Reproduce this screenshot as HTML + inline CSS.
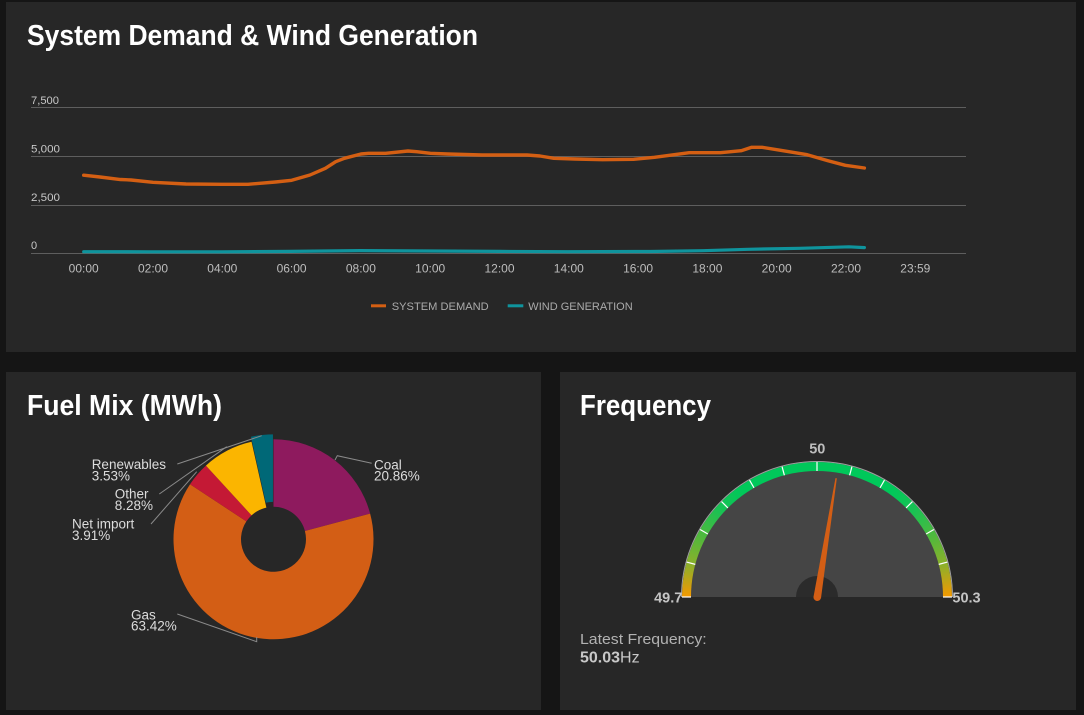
<!DOCTYPE html>
<html>
<head>
<meta charset="utf-8">
<style>
  html,body{margin:0;padding:0;}
  body{width:1084px;height:715px;background:#151515;position:relative;overflow:hidden;font-family:"Liberation Sans",sans-serif;}
  .panel{position:absolute;background:#272727;}
  #p1{left:6px;top:2px;width:1070px;height:350px;}
  #p2{left:6px;top:372px;width:535px;height:338px;}
  #p3{left:560px;top:372px;width:516px;height:338px;}
  #gwrap{position:absolute;left:682px;top:462px;width:270px;height:135px;overflow:hidden;}
  #gcone{width:270px;height:270px;border-radius:50%;
    background:conic-gradient(from 270deg,#f59a00 0deg,#d0a010 5deg,#8eb02a 14deg,#52b83c 27deg,#18c254 42deg,#00c85a 55deg,#00c85a 125deg,#18c254 138deg,#52b83c 153deg,#8eb02a 166deg,#d0a010 175deg,#f59a00 180deg,#f59a00 360deg);}
  svg{position:absolute;left:0;top:0;}
</style>
</head>
<body>
<div class="panel" id="p1"></div>
<div class="panel" id="p2"></div>
<div class="panel" id="p3"></div>
<div id="gwrap"><div id="gcone"></div></div>

<svg width="1084" height="715" viewBox="0 0 1084 715" xmlns="http://www.w3.org/2000/svg" font-family="Liberation Sans, sans-serif">
  <!-- Titles -->
  <text x="27" y="45" font-size="28.5" font-weight="bold" fill="#ffffff" textLength="451" lengthAdjust="spacingAndGlyphs">System Demand &amp; Wind Generation</text>
  <text x="27" y="415" font-size="29" font-weight="bold" fill="#ffffff" textLength="195" lengthAdjust="spacingAndGlyphs">Fuel Mix (MWh)</text>
  <text x="580" y="415" font-size="28.5" font-weight="bold" fill="#ffffff" textLength="131" lengthAdjust="spacingAndGlyphs">Frequency</text>

  <!-- Grid -->
  <g stroke="#5e5e5e" stroke-width="1">
    <line x1="31" y1="107.5" x2="966" y2="107.5"/>
    <line x1="31" y1="156.5" x2="966" y2="156.5"/>
    <line x1="31" y1="205.5" x2="966" y2="205.5"/>
    <line x1="31" y1="253.5" x2="966" y2="253.5"/>
  </g>
  <g font-size="11" fill="#c8c8c8">
    <text x="31" y="104" textLength="28" lengthAdjust="spacingAndGlyphs">7,500</text>
    <text x="31" y="152.5" textLength="29" lengthAdjust="spacingAndGlyphs">5,000</text>
    <text x="31" y="201" textLength="29" lengthAdjust="spacingAndGlyphs">2,500</text>
    <text x="31" y="249">0</text>
  </g>
  <g font-size="12" fill="#bdbdbd" text-anchor="middle">
    <text x="83.7" y="272.5">00:00</text>
    <text x="153" y="272.5">02:00</text>
    <text x="222.3" y="272.5">04:00</text>
    <text x="291.6" y="272.5">06:00</text>
    <text x="360.9" y="272.5">08:00</text>
    <text x="430.2" y="272.5">10:00</text>
    <text x="499.5" y="272.5">12:00</text>
    <text x="568.8" y="272.5">14:00</text>
    <text x="638.1" y="272.5">16:00</text>
    <text x="707.4" y="272.5">18:00</text>
    <text x="776.7" y="272.5">20:00</text>
    <text x="846" y="272.5">22:00</text>
    <text x="915.3" y="272.5">23:59</text>
  </g>

  <!-- Series -->
  <polyline fill="none" stroke="#0f949d" stroke-width="3.2" stroke-linejoin="round" stroke-linecap="round"
    points="83.7,251.7 150,251.8 222,251.8 290,251.4 360,250.6 430,251 500,251.4 568,251.7 650,251.5 703,250.7 748,249.3 800,248.3 849,246.8 864.4,247.6"/>
  <polyline fill="none" stroke="#d45f13" stroke-width="3.4" stroke-linejoin="round" stroke-linecap="round"
    points="83.7,175.2 100,177 120.5,179.5 131,180 153,182.3 186,184 222,184.3 248,184.3 275.5,182 291.7,180.3 310,175 325.4,168.3 335.7,161.7 344.4,158.3 361,154 368.5,153.3 385.7,153.3 408,151 416.7,151.7 430.4,153.3 447.7,154 482,155 499.3,155 527,155 540,156 553.9,158.3 574.7,159 602.5,159.7 633.7,159.3 654.5,157.3 689.2,152.7 720.4,152.7 741.2,150.7 751.7,147.3 762,147.3 782.9,150.7 807.2,154.7 828,160.7 845.3,165.3 864.4,168"/>

  <!-- Legend -->
  <rect x="371" y="304.3" width="15" height="3" fill="#d45f13"/>
  <text x="391.7" y="310" font-size="11.3" fill="#ababab" textLength="97" lengthAdjust="spacingAndGlyphs">SYSTEM DEMAND</text>
  <rect x="507.7" y="304.3" width="15.6" height="3" fill="#0f949d"/>
  <text x="528.3" y="310" font-size="11.3" fill="#ababab" textLength="104.4" lengthAdjust="spacingAndGlyphs">WIND GENERATION</text>

  <!-- Pie -->
  <path d="M273.5,439.3 A100,100 0 0 1 370.14,513.59 L304.91,530.94 A32.5,32.5 0 0 0 273.5,506.8 Z" fill="#8e1a5e"/>
  <path d="M370.14,513.59 A100,100 0 1 1 190.03,484.23 L246.37,521.40 A32.5,32.5 0 1 0 304.91,530.94 Z" fill="#d35e15"/>
  <path d="M190.03,484.23 A100,100 0 0 1 205.93,465.58 L251.54,515.34 A32.5,32.5 0 0 0 246.37,521.40 Z" fill="#c41935"/>
  <path d="M205.93,465.58 A100,100 0 0 1 251.52,441.75 L266.36,507.60 A32.5,32.5 0 0 0 251.54,515.34 Z" fill="#fbb500"/>
  <path transform="translate(-0.56,-4.97)" d="M251.52,441.75 A100,100 0 0 1 273.5,439.3 L273.5,506.8 A32.5,32.5 0 0 0 266.36,507.60 Z" fill="#006877"/>

  <!-- Pie leader lines -->
  <g fill="none" stroke="#8a8a8a" stroke-width="1">
    <polyline points="335,460 337.3,455.7 371.7,463.3"/>
    <polyline points="177.3,614 256.7,641.7 256.7,637"/>
    <polyline points="151,524 196.7,471.7"/>
    <polyline points="159.3,494 226.7,446.7"/>
    <polyline points="177.3,464 261.7,435.7"/>
  </g>
  <g font-size="13.5" fill="#dcdcdc">
    <text x="374" y="469.3">Coal</text>
    <text x="374" y="480.7">20.86%</text>
    <text x="131" y="619.3">Gas</text>
    <text x="131" y="630.7">63.42%</text>
    <text x="72" y="528.5">Net import</text>
    <text x="72" y="540">3.91%</text>
    <text x="114.7" y="498.5">Other</text>
    <text x="114.7" y="510">8.28%</text>
    <text x="91.7" y="469">Renewables</text>
    <text x="91.7" y="480.5">3.53%</text>
  </g>

  <!-- Gauge (center 817, 597) -->
  <rect x="676" y="597" width="282" height="4" fill="#272727"/>
  <path d="M691,597 A126,126 0 0 1 943,597 Z" fill="#454545"/>
  <path d="M681.5,597 A135.5,135.5 0 0 1 952.5,597" fill="none" stroke="#a0a0a0" stroke-width="1"/>
  <g transform="translate(817,597)" stroke="#ffffff" stroke-width="1.2">
    <line x1="-135" y1="0" x2="-126" y2="0" transform="rotate(0)"/>
    <line x1="-135" y1="0" x2="-126" y2="0" transform="rotate(15)"/>
    <line x1="-135" y1="0" x2="-126" y2="0" transform="rotate(30)"/>
    <line x1="-135" y1="0" x2="-126" y2="0" transform="rotate(45)"/>
    <line x1="-135" y1="0" x2="-126" y2="0" transform="rotate(60)"/>
    <line x1="-135" y1="0" x2="-126" y2="0" transform="rotate(75)"/>
    <line x1="-135" y1="0" x2="-126" y2="0" transform="rotate(90)"/>
    <line x1="-135" y1="0" x2="-126" y2="0" transform="rotate(105)"/>
    <line x1="-135" y1="0" x2="-126" y2="0" transform="rotate(120)"/>
    <line x1="-135" y1="0" x2="-126" y2="0" transform="rotate(135)"/>
    <line x1="-135" y1="0" x2="-126" y2="0" transform="rotate(150)"/>
    <line x1="-135" y1="0" x2="-126" y2="0" transform="rotate(165)"/>
    <line x1="-135" y1="0" x2="-126" y2="0" transform="rotate(180)"/>
  </g>
  <path d="M796,597 A21,21 0 0 1 838,597 Z" fill="#2b2b2b"/>
  <g transform="translate(817.3,597.2) rotate(9)">
    <path d="M-3.8,0 L-0.7,-120.5 L0.7,-120.5 L3.8,0 A3.8,3.8 0 0 1 -3.8,0 Z" fill="#d35e15"/>
  </g>
  <g font-size="14.5" font-weight="bold" fill="#c4c4c4">
    <text x="817.3" y="453.3" text-anchor="middle" fill="#bdbdbd">50</text>
    <text x="682.3" y="602.3" text-anchor="end">49.7</text>
    <text x="952.4" y="602.3">50.3</text>
  </g>
  <text x="580" y="644" font-size="15" fill="#b2b2b2" textLength="126.7" lengthAdjust="spacingAndGlyphs">Latest Frequency:</text>
  <text x="580" y="662.3" font-size="16" fill="#c8c8c8"><tspan font-weight="bold">50.03</tspan><tspan>Hz</tspan></text>
</svg>
</body>
</html>
